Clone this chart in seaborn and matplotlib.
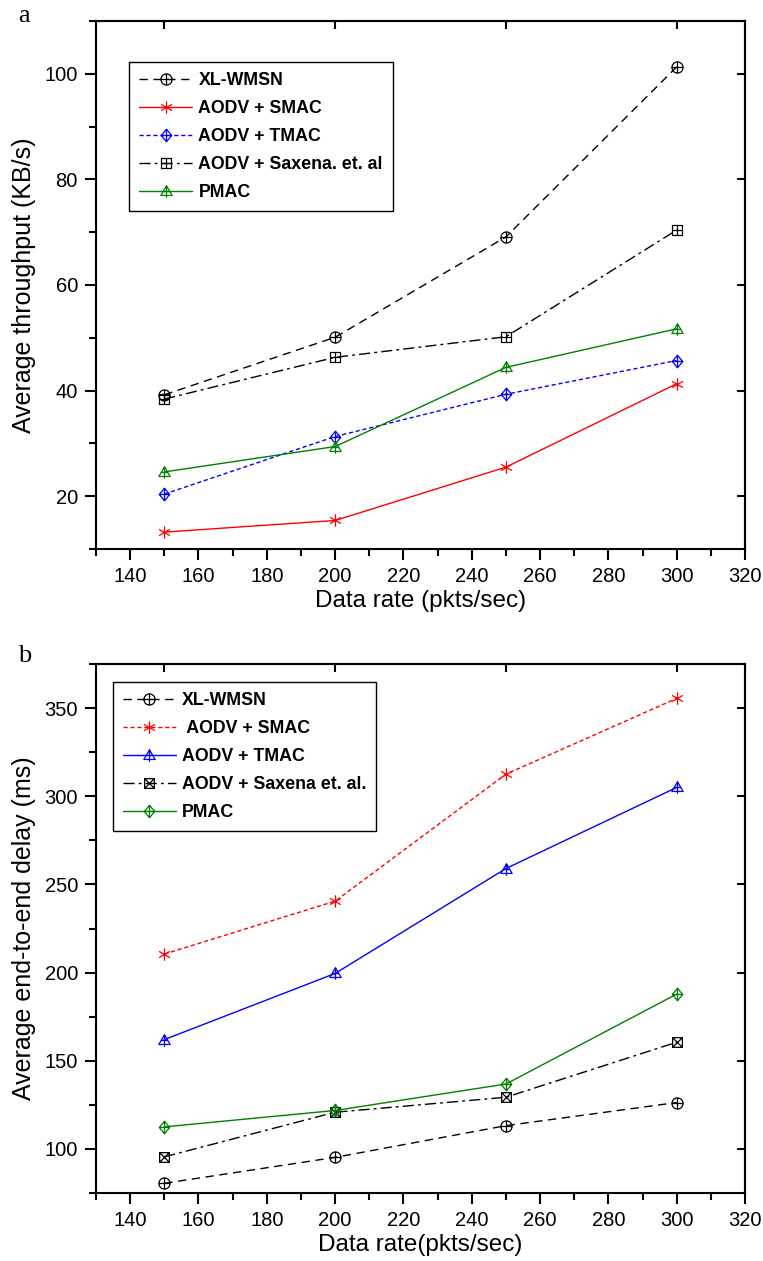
import numpy as np
import pandas as pd
import matplotlib
matplotlib.use("Agg")
import matplotlib.pyplot as plt
from matplotlib.path import Path
from matplotlib.ticker import MultipleLocator, FixedLocator
import seaborn as sns

# ---------------- data ----------------
rates = [150, 200, 250, 300]

# panel a: average throughput (KB/s)
thr_xl = [39.2, 50.1, 69.1, 101.3]
thr_smac = [13.2, 15.4, 25.5, 41.3]
thr_tmac = [20.4, 31.3, 39.3, 45.7]
thr_saxena = [38.4, 46.3, 50.2, 70.4]
thr_pmac = [24.6, 29.4, 44.4, 51.7]

# panel b: average end-to-end delay (ms)
dly_xl = [80.5, 95.2, 113.2, 126.3]
dly_smac = [210.5, 240.5, 312.5, 355.5]
dly_tmac = [162.0, 199.5, 259.0, 305.0]
dly_saxena = [95.5, 120.8, 129.3, 160.5]
dly_pmac = [112.5, 121.8, 136.8, 187.8]

labels_a = ["XL-WMSN", "AODV + SMAC", "AODV + TMAC", "AODV + Saxena. et. al", "PMAC"]
labels_b = ["XL-WMSN", " AODV + SMAC", "AODV + TMAC", "AODV + Saxena et. al.", "PMAC"]

xticks = [140, 160, 180, 200, 220, 240, 260, 280, 300, 320]

# ---------------- marker shapes ----------------
M, L, C = Path.MOVETO, Path.LINETO, Path.CLOSEPOLY


def seg(a, b):
    return Path([a, b], [M, L])


def poly(pts):
    return Path(list(pts) + [pts[0]], [M] + [L] * (len(pts) - 1) + [C])


circ_plus = Path.make_compound_path(Path.unit_circle(), seg((-1, 0), (1, 0)), seg((0, -1), (0, 1)))
sq = poly([(-1, -1), (1, -1), (1, 1), (-1, 1)])
sq_plus = Path.make_compound_path(sq, seg((-1, 0), (1, 0)), seg((0, -1), (0, 1)))
sq_x = Path.make_compound_path(sq, seg((-1, -1), (1, 1)), seg((-1, 1), (1, -1)))
diam = poly([(0, 1.2), (1, 0), (0, -1.2), (-1, 0)])
diam_plus = Path.make_compound_path(diam, seg((-1, 0), (1, 0)), seg((0, -1.2), (0, 1.2)))
tri = poly([(0, 1.0), (1.0, -0.7), (-1.0, -0.7)])
tri_plus = Path.make_compound_path(tri, seg((0, -1.1), (0, 1.0)), seg((-0.6, 0.0), (0.6, 0.0)))
star = Path.make_compound_path(seg((0, -1), (0, 1)), seg((-0.87, -0.5), (0.87, 0.5)),
                               seg((-0.87, 0.5), (0.87, -0.5)))

# ---------------- styling ----------------
sns.set_theme(style="ticks")
plt.rcParams["font.family"] = ["Liberation Sans", "DejaVu Sans"]
plt.rcParams["axes.linewidth"] = 1.5
for k in ["text.color", "axes.labelcolor", "xtick.color", "ytick.color", "axes.edgecolor"]:
    plt.rcParams[k] = "black"

fig = plt.figure(figsize=(7.63, 12.61), dpi=100)
W, H = 763, 1261
ax_a = fig.add_axes([96 / W, 1 - 549 / H, 649 / W, 528 / H])
ax_b = fig.add_axes([96 / W, 1 - 1193 / H, 649 / W, 529 / H])

RED, BLUE, GREEN, BLACK = "#ff0000", "#0000ff", "#008000", "#000000"
DASH = (0, (6, 4))
SHORT = (0, (3, 2))
DASHDOT = (0, (8, 3, 2, 3))

series_a = [
    (thr_xl, BLACK, DASH, circ_plus, 8),
    (thr_smac, RED, "-", star, 9),
    (thr_tmac, BLUE, SHORT, diam_plus, 9),
    (thr_saxena, BLACK, DASHDOT, sq_plus, 7),
    (thr_pmac, GREEN, "-", tri_plus, 9),
]
series_b = [
    (dly_xl, BLACK, DASH, circ_plus, 8),
    (dly_smac, RED, SHORT, star, 9),
    (dly_tmac, BLUE, "-", tri_plus, 9),
    (dly_saxena, BLACK, DASHDOT, sq_x, 7),
    (dly_pmac, GREEN, "-", diam_plus, 9),
]


def draw(ax, series, labels, ylim, ymajor, yminor, ylabel, xlabel, legend_xy, letter):
    for (vals, col, ls, mk, ms), lab in zip(series, labels):
        sns.lineplot(x=rates, y=vals, ax=ax, color=col, linestyle=ls, linewidth=1.0,
                     marker=mk, markersize=ms, markerfacecolor="none",
                     markeredgecolor=col, markeredgewidth=0.9, label=lab)
    ax.set_xlim(130, 320)
    ax.set_ylim(*ylim)
    ax.xaxis.set_major_locator(FixedLocator(xticks))
    ax.xaxis.set_minor_locator(MultipleLocator(10))
    ax.yaxis.set_major_locator(MultipleLocator(ymajor))
    ax.yaxis.set_minor_locator(MultipleLocator(yminor))
    ax.tick_params(axis="both", which="major", direction="out", length=8, width=1.5,
                   labelsize=14.5, colors="black", pad=5)
    ax.tick_params(axis="both", which="minor", direction="out", length=5, width=1.5)
    for s in ax.spines.values():
        s.set_visible(True)
        s.set_linewidth(1.5)
        s.set_color("black")
    # mirrored inward ticks on top/right
    top = ax.secondary_xaxis("top")
    top.set_xticks([150, 200, 250, 300])
    top.tick_params(direction="in", length=6, width=1.5, labeltop=False)
    top.set_xticklabels([])
    right = ax.secondary_yaxis("right")
    right.yaxis.set_major_locator(MultipleLocator(ymajor))
    right.tick_params(direction="in", length=6, width=1.5, labelright=False)
    ax.set_xlabel(xlabel, fontsize=17.5, labelpad=3)
    ax.set_ylabel(ylabel, fontsize=18, labelpad=6)
    leg = ax.legend(loc="upper left", bbox_to_anchor=legend_xy, borderaxespad=0,
                    frameon=True, fancybox=False, edgecolor="black", framealpha=1,
                    prop={"weight": "bold", "size": 12.8}, handlelength=3.0,
                    handletextpad=0.35, labelspacing=0.62, borderpad=0.55)
    leg.get_frame().set_linewidth(1.0)
    fig.text(18 / W, 1 - (16 if letter == "a" else 656) / H, letter,
             family="Liberation Serif", fontsize=19, ha="left", va="center")


draw(ax_a, series_a, labels_a, (10, 110), 20, 10, "Average throughput (KB/s)",
     "Data rate (pkts/sec)", (0.051, 0.922), "a")
draw(ax_b, series_b, labels_b, (75, 375), 50, 25, "Average end-to-end delay (ms)",
     "Data rate(pkts/sec)", (0.026, 0.966), "b")

fig.savefig("out.png", dpi=100)
